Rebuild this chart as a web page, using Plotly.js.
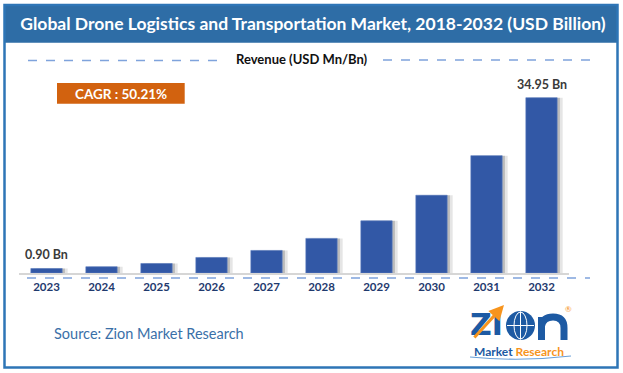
<!DOCTYPE html>
<html>
<head>
<meta charset="utf-8">
<script src="https://cdn.plot.ly/plotly-3.0.1.min.js"></script>
<style>html,body{margin:0;padding:0;background:#fff;}#chart{width:623px;height:373px;}</style>
</head>
<body>
<div id="chart"></div>
<script>
// ---- data ----
const years = ['2023','2024','2025','2026','2027','2028','2029','2030','2031','2032'];
const revenue = [0.90, 1.25, 1.9, 3.1, 4.5, 6.9, 10.4, 15.5, 23.4, 34.95];
const labelledIdx = [0, 9];
const chartTitle = 'Global Drone Logistics and Transportation Market, 2018-2032 (USD Billion)';
const seriesName = 'Revenue (USD Mn/Bn)';
const cagrText = 'CAGR : 50.21%';
const sourceText = 'Source: Zion Market Research';

// ---- geometry helpers (pixel -> paper) ----
const W = 623, H = 373, ML = 19, MR = 54, MT = 70, MB = 100;
const PW = W - ML - MR, PH = H - MT - MB;
const px = X => (X - ML) / PW;
const py = Y => (H - MB - Y) / PH;

const barW = 0.57;
const barColor = '#3258a6';
const FONT = 'Lato, "Open Sans", sans-serif';

const traces = [
  {type:'bar', x: years, y: revenue, width: barW, offset: -barW/2 + 0.10,
   marker:{color:'rgba(0,0,0,0.10)'}, hoverinfo:'skip', showlegend:false},
  {type:'bar', x: years, y: revenue, width: barW, offset: -barW/2 + 0.05,
   marker:{color:'rgba(0,0,0,0.18)'}, hoverinfo:'skip', showlegend:false},
  {type:'bar', x: years, y: revenue, width: barW, offset: -barW/2,
   marker:{color: barColor, line:{color:'#5a7cc0', width:0.6}}, name: seriesName, showlegend:false}
];

const ann = [];
function txt(X, Y, text, size, color, weight, family) {
  ann.push({xref:'paper', yref:'paper', x: px(X), y: py(Y), text: text,
    showarrow:false, xanchor:'center', yanchor:'middle', borderpad:0,
    font:{family: family || FONT, size: size, color: color, weight: weight || 'normal'}});
}
// series label
txt(301.5, 59, seriesName, 13, '#111', 'bold');
// CAGR
txt(121, 93.5, cagrText, 13.5, '#ffffff', 'bold');
// value labels (category index used as x)
labelledIdx.forEach(i => {
  ann.push({x: i, y: revenue[i], xref:'x', yref:'y', text: revenue[i].toFixed(2) + ' Bn',
    showarrow:false, xanchor:'center', yanchor:'bottom', yshift: 4,
    font:{family: FONT, size: 12.5, color:'#3a3a3a', weight:'bold'}});
});
// source
txt(149, 333, sourceText, 14.5, '#3a70a8', 'normal');
// logo
const zBlue = '#1d5aa3', zOrange = '#f7941d';
txt(486, 324, 'ZI', 30, zBlue, 'bold', '"DejaVu Sans", sans-serif');
txt(568, 309, '®', 8, zOrange, 'normal');
txt(519, 351, '<span style="color:#1d5aa3">Market</span> <span style="color:#f7941d">Research</span>', 12, zBlue, 'bold');
ann.push({xref:'paper', yref:'paper', x: px(504), y: py(305), ax: px(473), ay: py(339),
  axref:'paper', ayref:'paper', showarrow:true, arrowhead:2, arrowsize:1, arrowwidth:3,
  arrowcolor: zOrange, text:''});

const shapes = [
  // title bar
  {type:'rect', xref:'paper', yref:'paper', x0:px(4), x1:px(618), y0:py(5), y1:py(42.7),
   fillcolor:'#2e6da6', line:{width:0}, layer:'below'},
  // frame
  {type:'rect', xref:'paper', yref:'paper', x0:px(4.5), x1:px(617.5), y0:py(5), y1:py(367.5),
   fillcolor:'rgba(0,0,0,0)', line:{color:'#2e75b6', width:2.5}, layer:'above'},
  // top dashed lines
  {type:'line', xref:'paper', yref:'paper', x0:px(28), x1:px(222), y0:py(60.5), y1:py(60.5),
   line:{color:'#7fa3dc', width:1.3, dash:'dash'}},
  {type:'line', xref:'paper', yref:'paper', x0:px(383), x1:px(590), y0:py(60), y1:py(60),
   line:{color:'#7fa3dc', width:1.3, dash:'dash'}},
  // bottom dashed line
  {type:'line', xref:'paper', yref:'paper', x0:px(27), x1:px(590), y0:py(278), y1:py(278),
   line:{color:'#7fa3dc', width:1.3, dash:'dash'}},
  // CAGR box
  {type:'rect', xref:'paper', yref:'paper', x0:px(57), x1:px(184.7), y0:py(83), y1:py(103.7),
   fillcolor:'#d2620f', line:{width:0}},
  // globe
  {type:'circle', xref:'paper', yref:'paper', x0:px(506), x1:px(535), y0:py(311), y1:py(340),
   fillcolor:zBlue, line:{width:0}},
  {type:'circle', xref:'paper', yref:'paper', x0:px(514), x1:px(527), y0:py(312), y1:py(339),
   fillcolor:'rgba(0,0,0,0)', line:{color:'#ffffff', width:1}},
  {type:'line', xref:'paper', yref:'paper', x0:px(507), x1:px(534), y0:py(325.5), y1:py(325.5),
   line:{color:'#ffffff', width:1}},
  {type:'line', xref:'paper', yref:'paper', x0:px(520.5), x1:px(520.5), y0:py(311.5), y1:py(339.5),
   line:{color:'#ffffff', width:1}},
  // "n" glyph of the logo
  {type:'path', xref:'paper', yref:'paper',
   path:`M ${px(541.5)} ${py(340)} L ${px(541.5)} ${py(317)} M ${px(541.5)} ${py(326)} Q ${px(543)} ${py(317)} ${px(553)} ${py(317)} Q ${px(564)} ${py(317)} ${px(564)} ${py(328)} L ${px(564)} ${py(340)}`,
   line:{color:zBlue, width:7}},
  // swoosh under Market Research
  {type:'path', xref:'paper', yref:'paper',
   path:`M ${px(470)} ${py(357)} Q ${px(520)} ${py(362)} ${px(571)} ${py(356)}`,
   line:{color:'#6aa0d8', width:1.2}}
];

const layout = {
  width: W, height: H, autosize:false,
  margin:{l:ML, r:MR, t:MT, b:MB, pad:0},
  paper_bgcolor:'#ffffff', plot_bgcolor:'#ffffff',
  title:{text: chartTitle, xref:'container', yref:'container', x: 313/W, y: 1 - 24/H,
    xanchor:'center', yanchor:'middle', font:{family: FONT, size:17.5, color:'#ffffff', weight:'bold'}},
  barmode:'overlay', bargap:0.43,
  showlegend:false,
  xaxis:{type:'category', range:[-0.5, 9.5], showgrid:false, zeroline:false,
    showline:true, linecolor:'#d6d6d6', linewidth:1.5, ticks:'', ticklabelstandoff:3,
    tickfont:{family: FONT, size:11.5, color:'#1f3a6e', weight:'bold'}, fixedrange:true},
  yaxis:{range:[0, PH/5.016], visible:false, showgrid:false, zeroline:false, fixedrange:true},
  annotations: ann,
  shapes: shapes
};

Plotly.newPlot('chart', traces, layout, {displayModeBar:false, staticPlot:true});
</script>
</body>
</html>
